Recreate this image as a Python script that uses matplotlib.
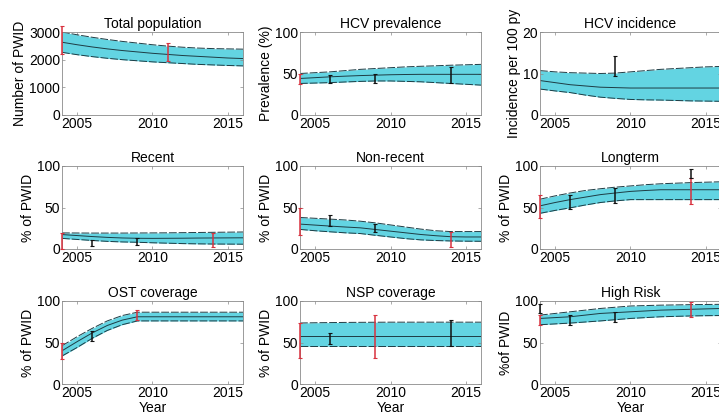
import matplotlib.pyplot as plt
import numpy as np

plt.rcParams['font.family'] = ['Liberation Sans', 'DejaVu Sans']
plt.rcParams['font.size'] = 10

years = np.arange(2004, 2017)

# total population
pop_hi = [3000, 2900, 2810, 2730, 2660, 2600, 2540, 2490, 2450, 2420, 2400, 2390, 2380]
pop_md = [2630, 2540, 2460, 2390, 2330, 2280, 2230, 2190, 2150, 2120, 2090, 2060, 2040]
pop_lo = [2265, 2180, 2110, 2050, 2000, 1960, 1920, 1890, 1860, 1830, 1810, 1790, 1775]
pop_red = ([2004, 2011], [2200, 1950], [3200, 2600])
pop_blk = ([], [], [])

# HCV prevalence
prev_hi = [50, 51, 52, 53.5, 55, 56, 57, 58, 58.7, 59.3, 60, 60.5, 61]
prev_md = [44, 45, 46, 46.8, 47.5, 48, 48.5, 48.8, 49, 49, 49, 49, 49]
prev_lo = [38, 38.5, 39, 39.8, 40.5, 41, 41, 40.5, 40, 39, 38, 37, 36]
prev_red = ([2004], [37], [50])
prev_blk = ([2006, 2009, 2014], [39, 39, 38], [48, 49, 58])

# HCV incidence
inc_hi = [10.7, 10.4, 10.2, 10.1, 10.0, 10.1, 10.4, 10.7, 11.0, 11.2, 11.4, 11.6, 11.7]
inc_md = [8.3, 7.8, 7.3, 7.0, 6.7, 6.6, 6.5, 6.5, 6.5, 6.5, 6.5, 6.5, 6.5]
inc_lo = [6.25, 5.8, 5.4, 4.8, 4.3, 4.0, 3.75, 3.65, 3.6, 3.5, 3.4, 3.35, 3.3]
inc_red = ([], [], [])
inc_blk = ([2009], [9.3], [14.2])

# recent
rec_hi = [19.4, 19.3, 19.2, 19.2, 19.2, 19.3, 19.4, 19.5, 19.7, 19.9, 20.1, 20.3, 20.5]
rec_md = [17.4, 16.2, 15, 14, 13.3, 12.9, 12.8, 12.9, 13, 13.2, 13.3, 13.4, 13.5]
rec_lo = [12.8, 11.5, 10.3, 9.2, 8.5, 8.1, 7.5, 7.0, 6.5, 6.2, 6.0, 5.9, 5.8]
rec_red = ([2004, 2014], [0, 2], [19, 19.5])
rec_blk = ([2006, 2009], [4, 5], [11, 13.5])

# non-recent
nr_hi = [38, 37, 36, 35, 33.5, 31.5, 29, 26.5, 24, 22, 21, 21, 21]
nr_md = [30, 28.8, 27.6, 26.5, 25.5, 23.5, 21.5, 19.5, 17.5, 16, 14.8, 14.5, 14.5]
nr_lo = [23.6, 22, 20.7, 19.5, 18.6, 16.5, 14.5, 12.5, 11, 10.2, 9.7, 9.4, 9.3]
nr_red = ([2004, 2014], [16.6, 3], [50, 20.5])
nr_blk = ([2006, 2009], [27.5, 20.5], [40.7, 30])

# longterm
lt_hi = [60, 64, 67.5, 70.5, 72.6, 74.5, 76, 77.5, 78.6, 79.3, 80, 80.5, 81]
lt_md = [52, 56, 59.5, 62.5, 65.5, 67.5, 69.4, 70.5, 71.4, 71.4, 71.4, 71.4, 71.4]
lt_lo = [43, 46.5, 49.6, 53, 56, 58, 59.5, 59.5, 59.5, 59.5, 59.5, 59.5, 59.5]
lt_red = ([2004, 2014], [37.7, 54], [65.5, 85])
lt_blk = ([2006, 2009, 2014], [47.6, 55.6, 85], [65.5, 73.4, 96])

# OST coverage
ost_hi = [46, 57, 67, 76, 82.5, 86.5, 86.5, 86.5, 86.5, 86.5, 86.5, 86.5, 86.5]
ost_md = [40, 51, 61.5, 70.5, 77, 81, 81, 81, 81, 81, 81, 81, 81]
ost_lo = [33.7, 44, 55, 64.5, 71.5, 76, 76, 76, 76, 76, 76, 76, 76]
ost_red = ([2004, 2009], [29.8, 77], [49.6, 89])
ost_blk = ([2006], [51.6], [63.5])

# NSP coverage
nsp_hi = [73.5, 73.8, 74.0, 74.2, 74.3, 74.4, 74.5, 74.5, 74.5, 74.5, 74.5, 74.5, 74.5]
nsp_md = [57.5, 57.5, 57.5, 57.5, 57.5, 57.5, 57.5, 57.5, 57.5, 57.5, 57.5, 57.5, 57.5]
nsp_lo = [45.6, 45.6, 45.6, 45.6, 45.6, 45.6, 45.6, 45.6, 45.6, 45.6, 45.6, 45.6, 45.6]
nsp_red = ([2004, 2009], [31.7, 31.7], [73.4, 83])
nsp_blk = ([2006, 2014], [47.6, 45.6], [61.5, 77.4])

# high risk
hr_hi = [83, 85, 87, 89, 91, 92.5, 94, 94.5, 95, 95.3, 95.6, 95.8, 96]
hr_md = [79, 80, 81, 83, 85, 86, 87, 88, 89, 89.5, 90, 90.5, 91]
hr_lo = [71.4, 72.4, 73.4, 74.7, 76, 77.5, 79, 80, 81, 81.5, 82, 82.3, 82.5]
hr_red = ([2004, 2014], [71, 81], [83, 99])
hr_blk = ([2004, 2006, 2009], [85, 71, 75], [96, 83, 87])

titles = ['Total population', 'HCV prevalence', 'HCV incidence',
          'Recent', 'Non-recent', 'Longterm',
          'OST coverage', 'NSP coverage', 'High Risk']
ylabels = ['Number of PWID', 'Prevalence (%)', 'Incidence per 100 py',
           '% of PWID', '% of PWID', '% of PWID',
           '% of PWID', '% of PWID', '%of PWID']
bands = [(pop_lo, pop_md, pop_hi), (prev_lo, prev_md, prev_hi), (inc_lo, inc_md, inc_hi),
         (rec_lo, rec_md, rec_hi), (nr_lo, nr_md, nr_hi), (lt_lo, lt_md, lt_hi),
         (ost_lo, ost_md, ost_hi), (nsp_lo, nsp_md, nsp_hi), (hr_lo, hr_md, hr_hi)]
reds = [pop_red, prev_red, inc_red, rec_red, nr_red, lt_red, ost_red, nsp_red, hr_red]
blacks = [pop_blk, prev_blk, inc_blk, rec_blk, nr_blk, lt_blk, ost_blk, nsp_blk, hr_blk]
ylims = [(0, 3000), (0, 100), (0, 20)] + [(0, 100)] * 6
yticks = [[0, 1000, 2000, 3000], [0, 50, 100], [0, 10, 20]] + [[0, 50, 100]] * 6

fill_col = '#63d4e2'
line_col = '#1d3c44'

fig = plt.figure(figsize=(7.19, 4.18), dpi=100)
W, H = 719.0, 418.0
lefts = [62, 300, 540]
tops = [32, 166, 301]
aw, ah = 181, 83

for i in range(9):
    r, c = divmod(i, 3)
    ax = fig.add_axes([lefts[c] / W, (H - tops[r] - ah) / H, aw / W, ah / H])
    lo, md, hi = bands[i]
    ax.fill_between(years, lo, hi, color=fill_col, lw=0)
    ax.plot(years, hi, color=line_col, lw=0.7, dashes=(8, 2))
    ax.plot(years, lo, color=line_col, lw=0.7, dashes=(8, 2))
    ax.plot(years, md, color=line_col, lw=0.7)
    for data, col in ((reds[i], '#d8323f'), (blacks[i], '#111111')):
        x, l, h = (np.asarray(d, dtype=float) for d in data)
        if len(x):
            ax.errorbar(x, (l + h) / 2, yerr=(h - l) / 2, fmt='none',
                        ecolor=col, elinewidth=1.1, capsize=1.5, capthick=0.8,
                        clip_on=False, zorder=4)
    ax.set_xlim(2004, 2016)
    ax.set_ylim(*ylims[i])
    ax.set_xticks([2005, 2010, 2015])
    ax.set_yticks(yticks[i])
    ax.set_title(titles[i], fontsize=10, pad=3)
    ax.set_ylabel(ylabels[i], fontsize=10, labelpad=1)
    ax.tick_params(direction='in', top=True, right=True, length=2.5,
                   width=0.5, color='#888888', labelsize=10, pad=1.5)
    for s in ax.spines.values():
        s.set_color('#8a8a8a')
        s.set_linewidth(0.6)
    if r == 2:
        ax.set_xlabel('Year', fontsize=10, labelpad=0.5)

fig.savefig('out.png', dpi=100)
